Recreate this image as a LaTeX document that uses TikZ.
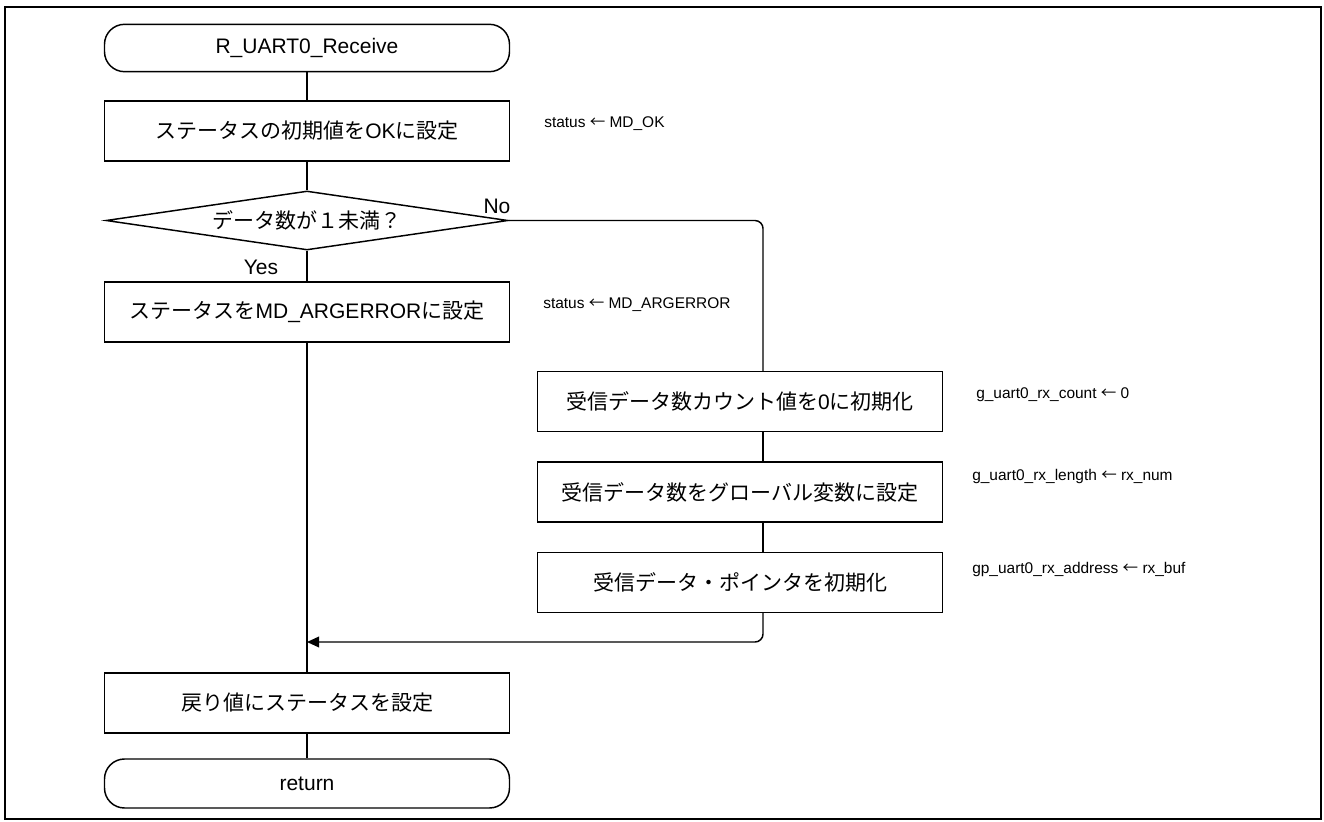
\documentclass[tikz,border=0pt]{standalone}
\usepackage{fontspec}
\setmainfont{Liberation Sans}
\newfontfamily\jp{Noto Sans CJK JP}
\usetikzlibrary{shapes.geometric,arrows.meta}
\begin{document}
\begin{tikzpicture}[x=0.75pt,y=-0.75pt,
  bigfont/.style={font=\fontsize{15.75pt}{18pt}\selectfont},
  proc/.style={draw, rectangle, line width=1.1pt, minimum width=303.75pt, minimum height=45pt, inner sep=0pt, bigfont},
  term/.style={proc, rounded corners=15pt, minimum height=35.5pt},
  decision/.style={draw, diamond, aspect=6.8, line width=1.1pt, inner sep=0pt, minimum width=301.5pt, minimum height=44.25pt, bigfont},
  note/.style={anchor=west, inner sep=0pt, font=\fontsize{11.6pt}{14pt}\selectfont},
  lbl/.style={inner sep=0pt, bigfont},
  flow/.style={line width=1.1pt},
]
\useasboundingbox (0,0) rectangle (1324,821);
\draw[line width=1.7pt] (5,7) rectangle (1321,819);

\node[term] (start) at (307,48) {R\_UART0\_Receive};
\node[proc] (b1) at (307,131) {{\jp ステータスの初期値を}OK{\jp に設定}};
\node[decision] (d) at (307,220.5) {{\jp データ数が１未満？}};
\node[proc] (b2) at (307,312) {{\jp ステータスを}MD\_ARGERROR{\jp に設定}};
\node[proc] (b3) at (740,401.5) {{\jp 受信データ数カウント値を}0{\jp に初期化}};
\node[proc] (b4) at (740,492) {{\jp 受信データ数をグローバル変数に設定}};
\node[proc] (b5) at (740,582.5) {{\jp 受信データ・ポインタを初期化}};
\node[proc] (b6) at (307,703) {{\jp 戻り値にステータスを設定}};
\node[term, minimum height=36.75pt] (ret) at (307,783.5) {return};

\node[lbl] (yes) at (261,267) {Yes};
\node[lbl] (no) at (497,206) {No};

\node[note] (n1) at (544,124) {status {\jp ←} MD\_OK};
\node[note] (n2) at (543,305) {status {\jp ←} MD\_ARGERROR};
\node[note] (n3) at (976,395) {g\_uart0\_rx\_count {\jp ←} 0};
\node[note] (n4) at (972,476) {g\_uart0\_rx\_length {\jp ←} rx\_num};
\node[note] (n5) at (972,569) {gp\_uart0\_rx\_address {\jp ←} rx\_buf};

\coordinate (rc) at (763,220.5);
\coordinate (m) at (307,642);

\draw[flow] (start) -- (b1);
\draw[flow] (b1) -- (d);
\draw[flow] (d) -- (b2);
\draw[flow] (b2) -- (b6);
\draw[flow] (b6) -- (ret);
\draw[flow, rounded corners=6pt] (d.east) -- (rc) -- (rc |- b3.north);
\draw[flow] (rc |- b3.south) -- (rc |- b4.north);
\draw[flow] (rc |- b4.south) -- (rc |- b5.north);
\draw[flow, rounded corners=6pt, -{Triangle[length=9pt,width=8pt]}] (rc |- b5.south) -- (rc |- m) -- (m);
\end{tikzpicture}
\end{document}
